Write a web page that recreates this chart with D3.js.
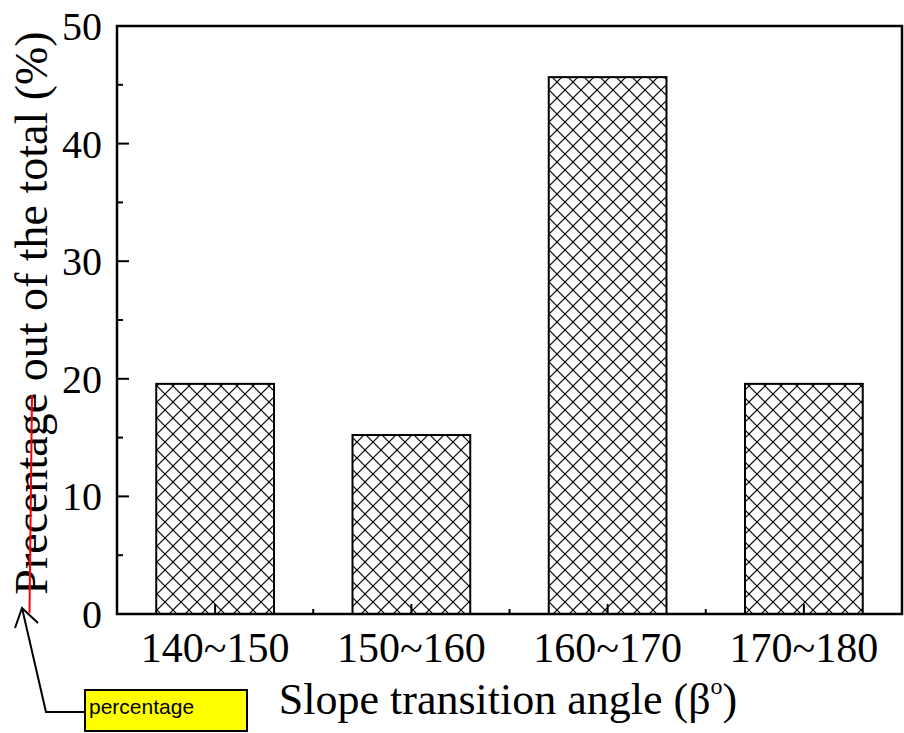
<!DOCTYPE html>
<html>
<head>
<meta charset="utf-8">
<script src="https://cdn.jsdelivr.net/npm/d3@7"></script>
<style>
  body { margin: 0; background: #fff; }
  svg { display: block; }
</style>
</head>
<body>
<div id="chart"></div>
<script>
// slope transition angle distribution (46 samples)
const categories = ["140~150", "150~160", "160~170", "170~180"];
const percentages = [19.57, 15.22, 45.65, 19.57];
const yTicks = [0, 10, 20, 30, 40, 50];
const yMinorTicks = [5, 15, 25, 35, 45];

const W = 904, H = 733;
const margin = { top: 26, right: 2, bottom: 119, left: 117 };
const width = W - margin.left - margin.right;
const height = H - margin.top - margin.bottom;

const svg = d3.select("#chart").append("svg")
    .attr("width", W)
    .attr("height", H);

// crosshatch fill
const defs = svg.append("defs");
const pat = defs.append("pattern")
    .attr("id", "hatch")
    .attr("patternUnits", "userSpaceOnUse")
    .attr("width", 16)
    .attr("height", 16);
pat.append("path")
    .attr("d", "M0,0 L16,16 M-4,12 L4,20 M12,-4 L20,4 M0,16 L16,0 M-4,4 L4,-4 M12,20 L20,12")
    .attr("stroke", "#000")
    .attr("stroke-width", 1.2);

const g = svg.append("g")
    .attr("transform", `translate(${margin.left},${margin.top})`);

const x = d3.scaleBand()
    .domain(categories)
    .range([0, width])
    .paddingInner(0.4)
    .paddingOuter(0.2);

const y = d3.scaleLinear()
    .domain([0, 50])
    .range([height, 0]);

// bars
g.selectAll(".bar")
    .data(categories)
    .join("rect")
    .attr("class", "bar")
    .attr("x", d => x(d))
    .attr("y", (d, i) => y(percentages[i]))
    .attr("width", x.bandwidth())
    .attr("height", (d, i) => height - y(percentages[i]))
    .attr("fill", "url(#hatch)")
    .attr("stroke", "#000")
    .attr("stroke-width", 2);

// frame
g.append("rect")
    .attr("width", width)
    .attr("height", height)
    .attr("fill", "none")
    .attr("stroke", "#000")
    .attr("stroke-width", 2.5);

// y ticks (inward)
g.selectAll(".ytick")
    .data(yTicks)
    .join("line")
    .attr("x1", 0).attr("x2", 12)
    .attr("y1", d => y(d)).attr("y2", d => y(d))
    .attr("stroke", "#000").attr("stroke-width", 2);
g.selectAll(".yminor")
    .data(yMinorTicks)
    .join("line")
    .attr("x1", 0).attr("x2", 6)
    .attr("y1", d => y(d)).attr("y2", d => y(d))
    .attr("stroke", "#000").attr("stroke-width", 2);

g.selectAll(".ylabel")
    .data(yTicks)
    .join("text")
    .attr("x", -15)
    .attr("y", d => y(d))
    .attr("dy", "0.35em")
    .attr("text-anchor", "end")
    .attr("font-family", "Liberation Serif, Times New Roman, serif")
    .attr("font-size", "40px")
    .attr("fill", "#000")
    .text(d => d);

// x ticks: major at centres, minor at boundaries
g.selectAll(".xtick")
    .data(categories)
    .join("line")
    .attr("x1", d => x(d) + x.bandwidth() / 2)
    .attr("x2", d => x(d) + x.bandwidth() / 2)
    .attr("y1", height).attr("y2", height - 10)
    .attr("stroke", "#000").attr("stroke-width", 2);
g.selectAll(".xminor")
    .data(categories.slice(1))
    .join("line")
    .attr("x1", d => x(d) - x.step() * x.paddingInner() / 2)
    .attr("x2", d => x(d) - x.step() * x.paddingInner() / 2)
    .attr("y1", height).attr("y2", height - 5)
    .attr("stroke", "#000").attr("stroke-width", 2);

g.selectAll(".xlabel")
    .data(categories)
    .join("text")
    .attr("x", d => x(d) + x.bandwidth() / 2)
    .attr("y", height + 48)
    .attr("text-anchor", "middle")
    .attr("font-family", "Liberation Serif, Times New Roman, serif")
    .attr("font-size", "42px")
    .attr("fill", "#000")
    .text(d => d);

// x title
const xt = svg.append("text")
    .attr("x", 508)
    .attr("y", 714)
    .attr("text-anchor", "middle")
    .attr("font-family", "Liberation Serif, Times New Roman, serif")
    .attr("font-size", "44px")
    .attr("fill", "#000");
xt.append("tspan").text("Slope transition angle (\u03b2");
xt.append("tspan").attr("font-size", "24px").attr("dy", -20).text("o");
xt.append("tspan").attr("dy", 20).text(")");

// y title
svg.append("text")
    .attr("transform", "translate(47,313) rotate(-90)")
    .attr("text-anchor", "middle")
    .attr("font-family", "Liberation Serif, Times New Roman, serif")
    .attr("font-size", "46px")
    .attr("fill", "#000")
    .text("Precentage out of the total (%)");

// red strike through the misspelled word
svg.append("line")
    .attr("x1", 32).attr("y1", 395)
    .attr("x2", 29.5).attr("y2", 613)
    .attr("stroke", "#ff0000")
    .attr("stroke-width", 2);

// annotation callout
svg.append("polyline")
    .attr("points", "85,712 46,712 22,608")
    .attr("fill", "none")
    .attr("stroke", "#000")
    .attr("stroke-width", 2);
svg.append("polyline")
    .attr("points", "15,628 22,608 38,623")
    .attr("fill", "none")
    .attr("stroke", "#000")
    .attr("stroke-width", 2);

svg.append("rect")
    .attr("x", 85).attr("y", 690)
    .attr("width", 162).attr("height", 41)
    .attr("fill", "#ffff00")
    .attr("stroke", "#000")
    .attr("stroke-width", 2);
svg.append("text")
    .attr("x", 89).attr("y", 714)
    .attr("font-family", "Liberation Sans, Arial, sans-serif")
    .attr("font-size", "21px")
    .attr("fill", "#000")
    .text("percentage");
</script>
</body>
</html>
